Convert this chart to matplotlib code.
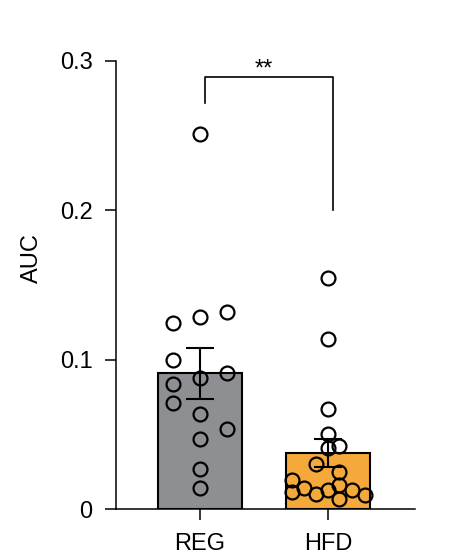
import matplotlib
matplotlib.use('Agg')
import matplotlib.pyplot as plt

# Data
groups = ['REG', 'HFD']
means = [0.091, 0.0375]
sems = [0.017, 0.0095]

reg_points = [0.251, 0.1244, 0.1284, 0.1317, 0.0998, 0.0875, 0.0909, 0.0835,
              0.0708, 0.0636, 0.0471, 0.0536, 0.0266, 0.0143]
hfd_points = [0.1549, 0.1139, 0.067, 0.0502, 0.0406, 0.0424, 0.0301, 0.025,
              0.0194, 0.0112, 0.0143, 0.0098, 0.0127, 0.0161, 0.0067, 0.0127, 0.0092]

# horizontal spread of the dots (layout only)
reg_jitter = [0, -0.21, 0, 0.21, -0.21, 0, 0.21, -0.21, -0.21, 0, 0, 0.21, 0, 0]
hfd_jitter = [0, 0, 0, 0, 0, 0.09, -0.09, 0.09, -0.28, -0.28, -0.19, -0.09,
              0, 0.09, 0.09, 0.19, 0.29]

bar_colors = ['#8e8f92', '#f6a93b']

plt.rcParams['font.family'] = ['Liberation Sans', 'DejaVu Sans']

fig = plt.figure(figsize=(4.74, 5.54), dpi=100)
ax = fig.add_axes([0.2447, 0.0812, 0.6308, 0.8087])

x = [0, 1]
ax.bar(x, means, width=0.66, color=bar_colors, edgecolor='black', linewidth=1.5, zorder=1)
ax.errorbar(x, means, yerr=sems, fmt='none', ecolor='black', elinewidth=1.5,
            capsize=10, capthick=1.5, zorder=2)

for xi, pts, jit in [(0, reg_points, reg_jitter), (1, hfd_points, hfd_jitter)]:
    ax.plot([xi + j for j in jit], pts, 'o', ms=10, mfc='none', mec='black',
            mew=1.6, zorder=3, clip_on=False)

# significance bracket
ax.plot([0.04, 0.04, 1.04, 1.04], [0.272, 0.289, 0.289, 0.2], color='black', lw=1.2)
ax.text(0.5, 0.2868, '**', ha='center', va='bottom', fontsize=17)

ax.set_xlim(-0.656, 1.68)
ax.set_ylim(0, 0.3)
ax.set_xticks(x)
ax.set_xticklabels(groups)
ax.set_yticks([0, 0.1, 0.2, 0.3])
ax.set_yticklabels(['0', '0.1', '0.2', '0.3'])
ax.set_ylabel('AUC', fontsize=17)
ax.yaxis.set_label_coords(-0.245, 0.56)

for s in ['top', 'right']:
    ax.spines[s].set_visible(False)
for s in ['left', 'bottom']:
    ax.spines[s].set_linewidth(1.1)
ax.tick_params(axis='both', length=8, width=1.1, labelsize=17)
ax.tick_params(axis='y', pad=9)
ax.tick_params(axis='x', pad=9)

fig.savefig('out.png', dpi=100)
